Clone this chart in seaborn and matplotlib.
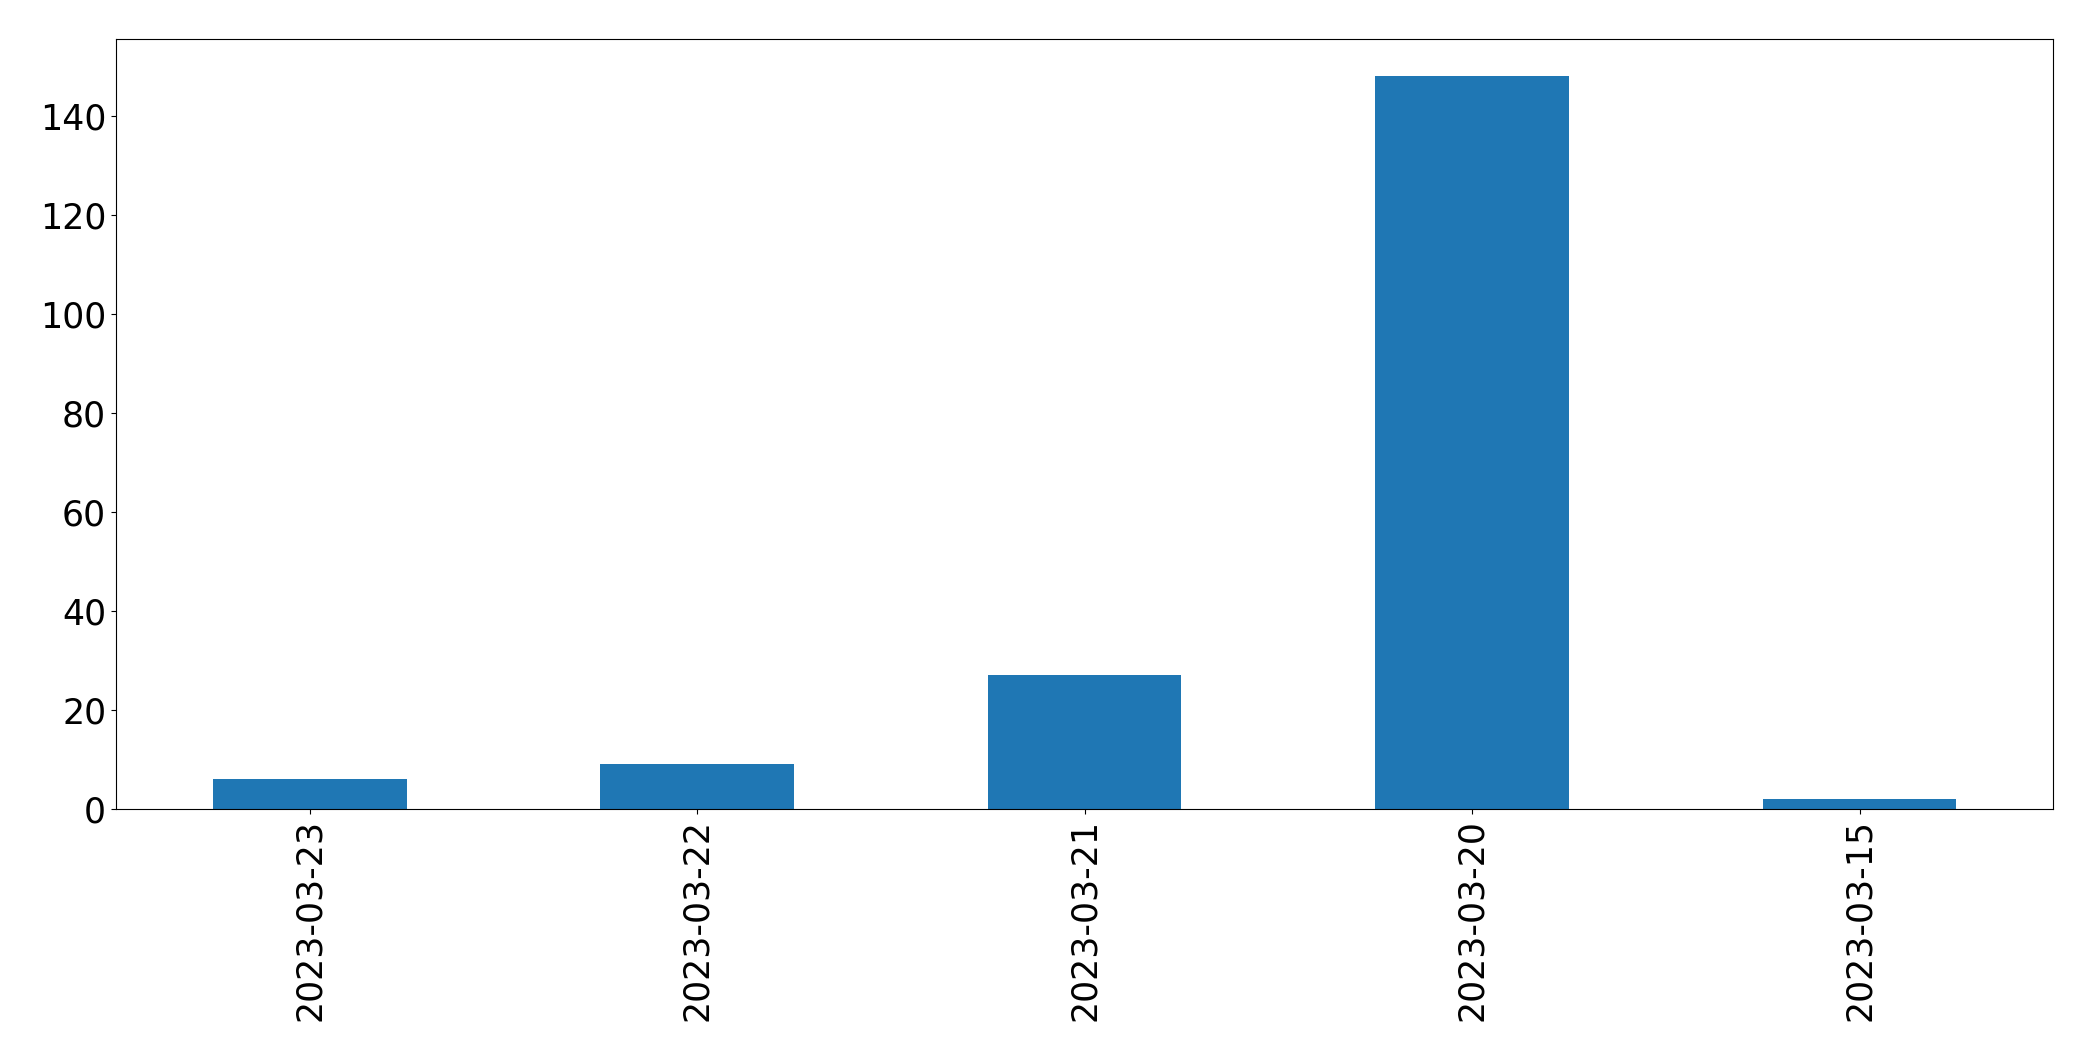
import matplotlib
matplotlib.use("Agg")
import matplotlib.pyplot as plt
import seaborn as sns
import pandas as pd

dates = ["2023-03-23", "2023-03-22", "2023-03-21", "2023-03-20", "2023-03-15"]
counts = [6, 9, 27, 148, 2]

df = pd.DataFrame({"date": dates, "count": counts})

fig, ax = plt.subplots(figsize=(20.93, 10.61), dpi=100)
sns.barplot(data=df, x="date", y="count", color="#1f77b4", saturation=1,
            width=0.5, ax=ax)
ax.set_xlim(-0.5, len(dates) - 0.5)
ax.set_ylim(0, max(counts) * 1.05)
ax.set_xlabel("")
ax.set_ylabel("")
for s in ax.spines.values():
    s.set_color("black")
ax.tick_params(axis="both", labelsize=25, colors="black")
ax.tick_params(axis="x", labelrotation=90)
fig.subplots_adjust(left=0.0554, right=0.981, top=0.963, bottom=0.2375)
plt.savefig("out.png")
